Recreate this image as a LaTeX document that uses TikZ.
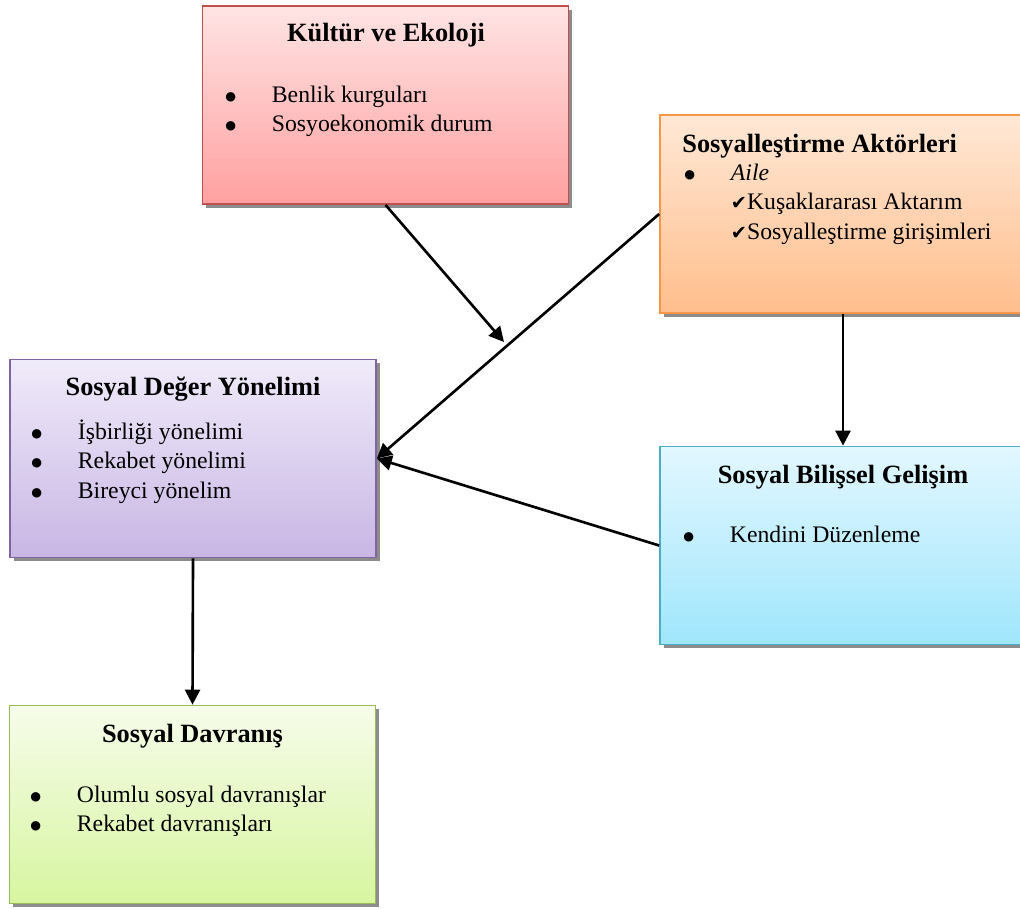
\documentclass[tikz,border=0pt]{standalone}
\usepackage{fontspec}
\setmainfont{Liberation Serif}
\newfontfamily\symfont{DejaVu Sans}
\usetikzlibrary{arrows.meta,shadows}

\definecolor{kulturtop}{RGB}{255,228,228}
\definecolor{kulturbot}{RGB}{255,160,160}
\definecolor{kulturline}{RGB}{192,80,77}
\definecolor{soztop}{RGB}{255,232,214}
\definecolor{sozbot}{RGB}{255,190,140}
\definecolor{sozline}{RGB}{247,150,70}
\definecolor{degertop}{RGB}{240,235,250}
\definecolor{degerbot}{RGB}{200,182,228}
\definecolor{degerline}{RGB}{128,100,162}
\definecolor{biltop}{RGB}{226,247,255}
\definecolor{bilbot}{RGB}{160,230,252}
\definecolor{billine}{RGB}{75,172,198}
\definecolor{davtop}{RGB}{246,252,234}
\definecolor{davbot}{RGB}{215,245,160}
\definecolor{davline}{RGB}{155,187,89}

\newcommand{\blt}{\makebox[26.5pt][l]{\raisebox{1.1pt}{\symfont\fontsize{7}{7}\selectfont ●}}}
\newcommand{\chk}{\hspace*{26.5pt}{\symfont\fontsize{11}{11}\selectfont ✔}}

\begin{document}
\begin{tikzpicture}[x=0.02cm,y=-0.02cm,
  box/.style={draw,line width=1pt,minimum width=7.32cm,minimum height=3.96cm,
    drop shadow={shadow xshift=2.2pt,shadow yshift=-2.2pt,fill=black!45,opacity=1}},
  head/.style={inner sep=0pt,font=\bfseries\fontsize{15}{18}\selectfont},
  list/.style={inner sep=0pt,anchor=north west,align=left,font=\fontsize{13.5}{16.8}\selectfont},
  arr/.style={line width=1.5pt,-{Triangle[length=8.5pt,width=8.5pt]}}]
\useasboundingbox (0,0) rectangle (1020,909);

%% culture box at the top
\node[box,draw=kulturline,top color=kulturtop,bottom color=kulturbot] (kultur) at (385.5,105) {};
\node[head,anchor=base] (kulturhead) at (386,42) {Kültür ve Ekoloji};
\node[list] (kulturlist) at (225,81.3) {\strut\blt Benlik kurguları\\\strut\blt Sosyoekonomik durum};

%% socialisation agents, right
\node[box,draw=sozline,top color=soztop,bottom color=sozbot] (soz) at (843,214) {};
\node[head,anchor=base west] (sozhead) at (682,152) {Sosyalleştirme Aktörleri};
\node[list] (sozlist) at (684,159.3) {\strut\blt\textit{Aile}\\\strut\chk Kuşaklararası Aktarım\\\strut\chk Sosyalleştirme girişimleri};

%% social value orientation, left middle
\node[box,draw=degerline,top color=degertop,bottom color=degerbot] (deger) at (193,458.5) {};
\node[head,anchor=base] (degerhead) at (193,395) {Sosyal Değer Yönelimi};
\node[list] (degerlist) at (31,418.3) {\strut\blt İşbirliği yönelimi\\\strut\blt Rekabet yönelimi\\\strut\blt Bireyci yönelim};

%% social cognitive development, right middle
\node[box,draw=billine,top color=biltop,bottom color=bilbot] (bil) at (843,545.5) {};
\node[head,anchor=base] (bilhead) at (843,483) {Sosyal Bilişsel Gelişim};
\node[list] (billist) at (683,521.3) {\strut\blt Kendini Düzenleme};

%% social behaviour, bottom
\node[box,draw=davline,top color=davtop,bottom color=davbot] (dav) at (192.5,804.5) {};
\node[head,anchor=base] (davhead) at (192.5,742) {Sosyal Davranış};
\node[list] (davlist) at (30,781.3) {\strut\blt Olumlu sosyal davranışlar\\\strut\blt Rekabet davranışları};

%% arrows
\coordinate (kulturend) at (504,342);
\draw[arr] (kultur.south) -- (kulturend);
\draw[arr] (soz.west) -- (deger.east);
\draw[arr] (soz.south) -- (bil.north);
\draw[arr] (bil.west) -- (deger.east);
\draw[arr] (deger.south) -- (dav.north);

\end{tikzpicture}
\end{document}
